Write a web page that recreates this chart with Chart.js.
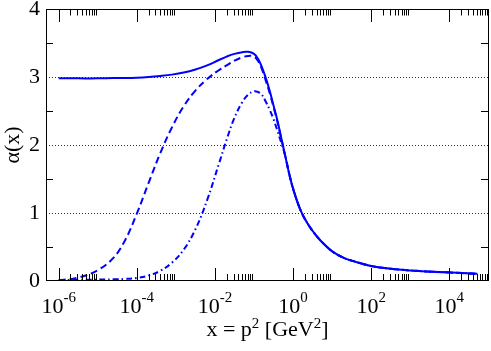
<!DOCTYPE html>
<html>
<head>
<meta charset="utf-8">
<script src="https://cdn.jsdelivr.net/npm/chart.js@4"></script>
<style>
  html, body { margin: 0; padding: 0; background: #fff; }
  #wrap { width: 491px; height: 351px; }
</style>
</head>
<body>
<div id="wrap"><canvas id="chart" width="491" height="351"></canvas></div>
<script>
// x axis range (GeV^2) and labelled decades
const xMin = 4.73e-7;
const xMax = 1.04e5;
const xLabelExps = [-6, -4, -2, 0, 2, 4];
const yMinorTicks = [0.5, 1.5, 2.5, 3.5];

// sample points, given as log10(x)
const logX = [-6, -5.5, -5, -4.6, -4.3, -4.0, -3.7, -3.4, -3.1, -2.8, -2.5, -2.2, -1.9, -1.7, -1.5, -1.3, -1.15, -1.0, -0.9, -0.8,
  -0.7, -0.6, -0.5, -0.4, -0.3, -0.2, -0.1, 0, 0.2, 0.4, 0.62, 0.85, 1.04, 1.3, 1.5, 2, 2.5, 3, 3.6, 4.2, 4.72];

// solid curve
const solidY = [2.98, 2.98, 2.98, 2.985, 2.985, 2.99, 3.0, 3.015, 3.035, 3.065, 3.11, 3.17, 3.25, 3.30, 3.34, 3.365, 3.37, 3.34, 3.27, 3.15,
  2.99, 2.80, 2.58, 2.36, 2.10, 1.84, 1.58, 1.36, 1.03, 0.82, 0.65, 0.51, 0.42, 0.34, 0.30, 0.22, 0.18, 0.155, 0.135, 0.12, 0.105];

// dashed curve
const dashY = [0.01, 0.05, 0.16, 0.34, 0.60, 0.99, 1.44, 1.88, 2.26, 2.57, 2.80, 2.97, 3.10, 3.17, 3.24, 3.29, 3.31, 3.30, 3.24, 3.12,
  2.95, 2.77, 2.56, 2.34, 2.09, 1.84, 1.58, 1.36, 1.03, 0.82, 0.65, 0.51, 0.42, 0.34, 0.30, 0.22, 0.18, 0.155, 0.135, 0.12, 0.105];

// dash-dot curve
const dotY = [0.015, 0.017, 0.02, 0.025, 0.03, 0.045, 0.08, 0.15, 0.27, 0.46, 0.76, 1.19, 1.72, 2.08, 2.40, 2.63, 2.74, 2.79, 2.78, 2.74,
  2.64, 2.52, 2.38, 2.21, 2.03, 1.84, 1.58, 1.36, 1.03, 0.82, 0.65, 0.51, 0.42, 0.34, 0.30, 0.22, 0.18, 0.155, 0.135, 0.12, 0.105];

const pts = ys => logX.map((lx, i) => ({ x: Math.pow(10, lx), y: ys[i] }));
const serif = 'Liberation Serif';
const blue = '#0000ff';

const framePlugin = {
  id: 'frame',
  afterDraw(chart) {
    const ctx = chart.ctx;
    const a = chart.chartArea;
    const xs = chart.scales.x, ys = chart.scales.y;
    ctx.save();
    ctx.strokeStyle = '#000';
    ctx.lineWidth = 1;
    ctx.strokeRect(Math.round(a.left) + 0.5, Math.round(a.top) + 0.5, Math.round(a.right - a.left) - 1, Math.round(a.bottom - a.top) - 1);

    // x ticks, top and bottom, inside the frame
    ctx.beginPath();
    xLabelExps.forEach(e => {
      const p = Math.round(xs.getPixelForValue(Math.pow(10, e))) + 0.5;
      ctx.moveTo(p, a.top); ctx.lineTo(p, a.top + 13);
      ctx.moveTo(p, a.bottom); ctx.lineTo(p, a.bottom - 13);
      for (let m = 2; m <= 9; m++) {
        const v = m * Math.pow(10, e);
        if (v > xMax) continue;
        const q = Math.round(xs.getPixelForValue(v)) + 0.5;
        ctx.moveTo(q, a.top); ctx.lineTo(q, a.top + 6.5);
        ctx.moveTo(q, a.bottom); ctx.lineTo(q, a.bottom - 7);
      }
    });
    // y minor ticks, left and right
    yMinorTicks.forEach(v => {
      const p = Math.round(ys.getPixelForValue(v)) + 0.5;
      ctx.moveTo(a.left, p); ctx.lineTo(a.left + 7, p);
      ctx.moveTo(a.right, p); ctx.lineTo(a.right - 8, p);
    });
    ctx.stroke();

    // x tick labels with exponents
    ctx.fillStyle = '#000';
    ctx.textBaseline = 'alphabetic';
    ctx.textAlign = 'left';
    xLabelExps.forEach(e => {
      const p = xs.getPixelForValue(Math.pow(10, e));
      const expText = e < 0 ? '-' + (-e) : String(e);
      ctx.font = '22px "' + serif + '"';
      const w1 = ctx.measureText('10').width;
      ctx.font = '15px "' + serif + '"';
      const w2 = ctx.measureText(expText).width;
      const x0 = p - (w1 + w2) / 2;
      ctx.font = '22px "' + serif + '"';
      ctx.fillText('10', x0, a.bottom + 32);
      ctx.font = '15px "' + serif + '"';
      ctx.fillText(expText, x0 + w1, a.bottom + 21);
    });

    // x axis title: x = p^2 [GeV^2]
    const parts = [['x = p', false], ['2', true], [' [GeV', false], ['2', true], [']', false]];
    let total = 0;
    parts.forEach(([t, sup]) => {
      ctx.font = (sup ? '15px "' : '22px "') + serif + '"';
      total += ctx.measureText(t).width;
    });
    let x = (a.left + a.right) / 2 - total / 2;
    const base = a.bottom + 55;
    parts.forEach(([t, sup]) => {
      ctx.font = (sup ? '15px "' : '22px "') + serif + '"';
      ctx.fillText(t, x, sup ? base - 8 : base);
      x += ctx.measureText(t).width;
    });
    ctx.restore();
  }
};

new Chart(document.getElementById('chart'), {
  type: 'line',
  data: {
    datasets: [
      { data: pts(solidY), borderColor: blue, borderWidth: 2, tension: 0.4 },
      { data: pts(dashY), borderColor: blue, borderWidth: 2, borderDash: [7, 4], tension: 0.4 },
      { data: pts(dotY), borderColor: blue, borderWidth: 2, borderDash: [6, 3, 1.5, 3], tension: 0.4 }
    ]
  },
  options: {
    responsive: false,
    animation: false,
    layout: { padding: { top: 9, right: 2, left: 0, bottom: 0 } },
    plugins: { legend: { display: false }, tooltip: { enabled: false } },
    elements: { point: { radius: 0 } },
    scales: {
      x: {
        type: 'logarithmic', min: xMin, max: xMax,
        ticks: { display: false },
        grid: { display: false },
        border: { display: false },
        afterFit: s => { s.height = 70; s.paddingLeft = 0; s.paddingRight = 0; }
      },
      y: {
        min: 0, max: 4,
        ticks: { stepSize: 1, color: '#000', padding: 6, font: { family: serif, size: 22 } },
        grid: {
          drawTicks: false,
          lineWidth: 1,
          color: c => (c.tick && c.tick.value > 0 && c.tick.value < 4) ? '#333' : 'rgba(0,0,0,0)'
        },
        border: { display: false, dash: [1, 2] },
        title: { display: true, text: 'α(x)', color: '#000', padding: 0, font: { family: serif, size: 22 } },
        afterFit: s => { s.width = 46; s.paddingTop = 0; s.paddingBottom = 0; }
      }
    }
  },
  plugins: [framePlugin]
});
</script>
</body>
</html>
